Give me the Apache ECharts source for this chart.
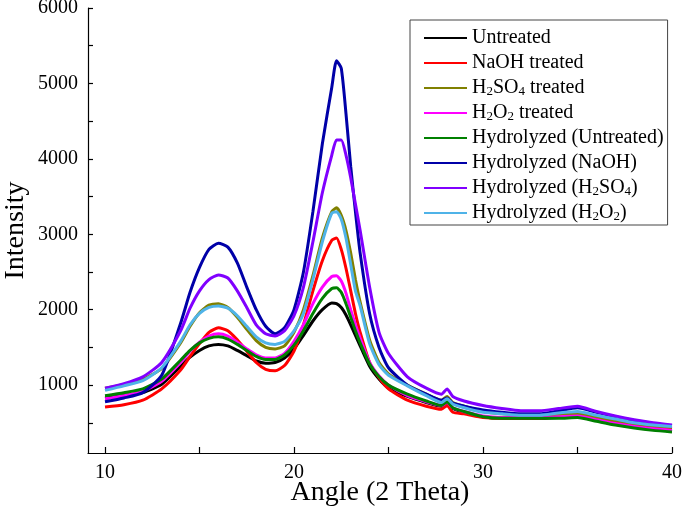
<!DOCTYPE html>
<html>
<head>
<meta charset="utf-8">
<script src="https://cdn.jsdelivr.net/npm/echarts@6/dist/echarts.min.js"></script>
<style>html,body{margin:0;padding:0;background:#fff}#c{width:685px;height:511px}</style>
</head>
<body>
<div id="c"></div>
<script>
var angles = [10,11,12,13, 14,14.5,15,15.5,16,16.5,17,17.5,18,18.5,19,19.5,20,20.5, 21,21.5, 22,22.25,22.5,22.75,23,23.25,23.5, 24,24.5,25, 26,27, 27.8,28.1,28.4, 29,30,31,32,33,34,35,36,37,38,39,40];

var untreated = [830,860,900,1010, 1250,1370,1460,1520,1540,1520,1460,1390,1320,1290,1300,1360,1480,1660, 1850,2000, 2090,2080,2030,1930,1800,1660,1520, 1250,1080,960, 850,770, 720,760,690, 640,580,560,560,560,570,580,530,480,440,410,390];
var naohTreated = [710,740,800,950, 1200,1380,1550,1700,1760,1720,1600,1450,1300,1210,1190,1260,1450,1800, 2250,2650, 2920,2950,2800,2550,2250,1950,1700, 1300,1100,950, 800,720, 680,730,640, 620,570,560,560,560,580,590,550,510,480,450,420];
var h2so4Treated = [960,1010,1080,1220, 1560,1780,1960,2060,2080,2030,1900,1740,1590,1500,1480,1520,1700,2000, 2450,2950, 3300,3350,3250,3050,2750,2400,2100, 1600,1300,1150, 1000,880, 800,850,770, 720,650,620,610,600,610,620,580,530,490,460,440];
var h2o2Treated = [820,860,920,1050, 1300,1450,1570,1650,1680,1650,1570,1480,1400,1360,1360,1420,1580,1800, 2080,2300, 2440,2450,2380,2220,2000,1800,1620, 1300,1120,1000, 860,780, 730,770,700, 650,590,570,570,570,580,590,540,490,450,420,400];
var hydUntreated = [860,900,950,1080, 1330,1460,1560,1620,1640,1610,1540,1460,1380,1340,1340,1400,1530,1720, 1950,2150, 2280,2290,2230,2080,1900,1720,1560, 1280,1110,1000, 880,790, 730,780,700, 650,580,560,560,560,560,570,520,470,430,400,380];
var hydNaOH = [780,830,900,1130, 1820,2230,2560,2800,2880,2830,2620,2300,2000,1780,1680,1760,2000,2500, 3300,4200, 4950,5300,5200,4600,3900,3300,2750, 1950,1500,1230, 1000,880, 800,830,760, 720,670,640,620,620,660,700,640,580,530,490,460];
var hydH2SO4 = [960,1020,1110,1300, 1720,2020,2250,2400,2460,2420,2250,2030,1800,1680,1650,1720,1920,2300, 2900,3550, 4050,4250,4250,4050,3750,3400,3050, 2300,1700,1420, 1110,960, 880,950,850, 790,730,690,660,660,690,720,650,590,540,500,470];
var hydH2O2 = [930,990,1060,1230, 1580,1800,1950,2030,2050,2020,1920,1780,1640,1560,1540,1580,1720,1950, 2400,2900, 3280,3300,3200,2950,2600,2250,2050, 1550,1270,1130, 990,860, 770,820,750, 700,640,620,600,600,630,650,600,550,500,470,450];

var seriesNames = ['Untreated','NaOH treated','H2SO4 treated','H2O2 treated','Hydrolyzed (Untreated)','Hydrolyzed (NaOH)','Hydrolyzed (H2SO4)','Hydrolyzed (H2O2)'];
var seriesValues = [untreated, naohTreated, h2so4Treated, h2o2Treated, hydUntreated, hydNaOH, hydH2SO4, hydH2O2];
var seriesColors = ['#000000','#ff0000','#808000','#ff00ff','#008000','#0000a8','#8000ff','#4fb3e8'];

var xTickValues = [10,15,20,25,30,35,40];
var xLabelValues = [10,20,30,40];
var yTickValues = [500,1000,1500,2000,2500,3000,3500,4000,4500,5000,5500,6000];
var yLabelValues = [1000,2000,3000,4000,5000,6000];

var FONT = '"Liberation Serif","Times New Roman",serif';

function pairs(vals){ return angles.map(function(a,i){ return [a, vals[i]]; }); }

var chart = echarts.init(document.getElementById('c'), null, {renderer:'canvas'});
chart.setOption({
  animation: false,
  backgroundColor: '#fff',
  grid: {left: 88, right: 13, top: 8, bottom: 58, containLabel: false, outerBoundsMode: 'none'},
  xAxis: {
    type: 'value', min: 9.1, max: 40,
    name: 'Angle (2 Theta)', nameLocation: 'middle', nameGap: 26, nameMoveOverlap: false,
    nameTextStyle: {fontFamily: FONT, fontSize: 28, color: '#000'},
    axisLine: {show: true, onZero: false, lineStyle: {color: '#000', width: 1.2}},
    axisTick: {show: true, inside: true, length: 6, customValues: xTickValues, lineStyle: {color: '#000', width: 1.2}},
    axisLabel: {customValues: xLabelValues, fontFamily: FONT, fontSize: 20, color: '#000', margin: 10,
      formatter: function(v){ return String(v); }},
    splitLine: {show: false}
  },
  yAxis: {
    type: 'value', min: 100, max: 6000,
    name: 'Intensity', nameLocation: 'middle', nameGap: 58, nameRotate: 90, nameMoveOverlap: false,
    nameTextStyle: {fontFamily: FONT, fontSize: 28, color: '#000'},
    axisLine: {show: true, onZero: false, lineStyle: {color: '#000', width: 1.2}},
    axisTick: {show: true, inside: true, length: 5, customValues: yTickValues, lineStyle: {color: '#000', width: 1.2}},
    axisLabel: {customValues: yLabelValues, fontFamily: FONT, fontSize: 20, color: '#000', margin: 10,
      formatter: function(v){ return String(v); }},
    splitLine: {show: false}
  },
  legend: {
    orient: 'vertical', left: 410, top: 20,
    padding: [8, 4, 2, 14],
    itemGap: 5, itemWidth: 43, itemHeight: 2,
    icon: 'rect',
    borderColor: '#444', borderWidth: 1,
    data: seriesNames,
    formatter: function(n){
      return n.replace('H2SO4','H{s|2}SO{s|4}').replace('H2O2','H{s|2}O{s|2}');
    },
    textStyle: {fontFamily: FONT, fontSize: 20, color: '#000', lineHeight: 20, padding: [0,0,0,0],
      rich: {s: {fontFamily: FONT, fontSize: 13, color: '#000', verticalAlign: 'bottom', lineHeight: 14}}}
  },
  series: seriesNames.map(function(n, i){
    return {
      name: n, type: 'line', data: pairs(seriesValues[i]),
      symbol: 'none', smooth: 0.2,
      lineStyle: {color: seriesColors[i], width: 3},
      itemStyle: {color: seriesColors[i]}
    };
  })
});
</script>
</body>
</html>
